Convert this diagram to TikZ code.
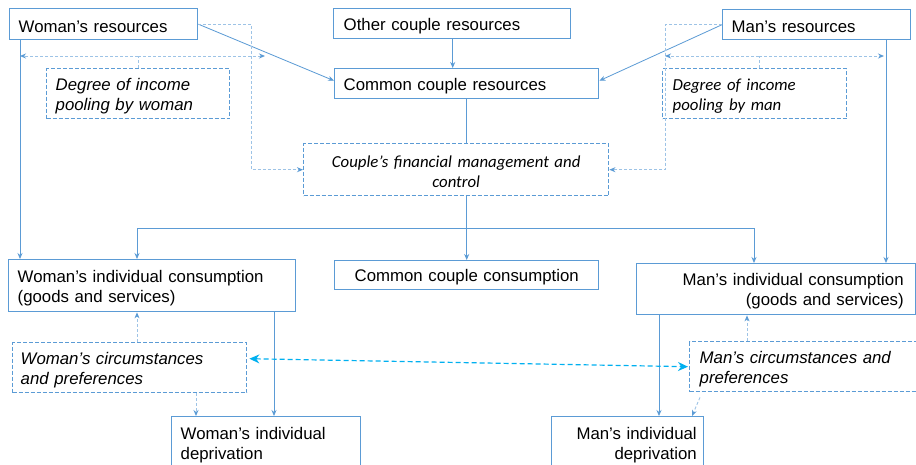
\documentclass[tikz,border=0pt]{standalone}
\usepackage{fontspec}
\setmainfont{Liberation Sans}
\newfontfamily\calibrifont{Carlito}
\usetikzlibrary{arrows.meta}
\definecolor{boxblue}{HTML}{5B9BD5}
\definecolor{lightblue}{HTML}{9DC3E6}
\definecolor{cyanblue}{HTML}{00B0F0}
\begin{document}
\begin{tikzpicture}[x=1pt,y=-1pt,
  txt/.style={font=\fontsize{16.8}{20}\selectfont},
  box/.style={draw=boxblue, line width=1.4pt, inner sep=0pt, anchor=north west, txt, fill=white,
    execute at begin node={\rule{0pt}{16.5pt}}},
  dbox/.style={box, dash pattern=on 4pt off 2pt},
  conn/.style={draw=boxblue, line width=0.8pt, -{Stealth[length=6pt,width=5pt]}},
  plain/.style={draw=boxblue, line width=0.8pt},
  ldash/.style={draw=lightblue, line width=0.9pt, dash pattern=on 3pt off 2pt, -{Stealth[length=6pt,width=5pt,color=boxblue]}},
  ldashplain/.style={draw=lightblue, line width=0.9pt, dash pattern=on 3pt off 2pt},
  cyanarrow/.style={draw=cyanblue, line width=1.2pt, dash pattern=on 5pt off 3pt, {Stealth[length=10pt,width=9pt]}-{Stealth[length=10pt,width=9pt]}}
]
\useasboundingbox (0,0) rectangle (916,464);
\clip (0,0) rectangle (916,464);
\fill[white] (0,0) rectangle (916,464);

% boxes
\node[box, minimum width=188pt, minimum height=31pt, text width=170pt, align=left] (wres) at (9,8) {Woman’s resources};
\node[box, minimum width=237pt, minimum height=30pt, text width=217pt, align=left] (ocres) at (333,8) {Other couple resources};
\node[box, minimum width=264pt, minimum height=30pt, text width=246pt, align=left] (ccres) at (334,68) {Common couple resources};
\node[box, minimum width=188pt, minimum height=30pt, text width=170pt, align=left] (mres) at (722,9) {Man’s resources};
\node[dbox, minimum width=183pt, minimum height=50pt, text width=165pt, align=left, font=\fontsize{16.8}{20}\selectfont\itshape] (dpw) at (46,68) {Degree of income\\pooling by woman};
\node[dbox, minimum width=184pt, minimum height=50pt, text width=164pt, align=left, font=\fontsize{16.8}{20}\calibrifont\itshape] (dpm) at (662,68) {Degree of income\\pooling by man};
\node[dbox, minimum width=305pt, minimum height=52pt, text width=285pt, align=center, font=\fontsize{16.8}{20}\calibrifont\itshape] (cfm) at (303,143) {Couple’s financial management and\\control};
\node[box, minimum width=287pt, minimum height=52pt, text width=269pt, align=left] (wcons) at (8,259) {Woman’s individual consumption\\(goods and services)};
\node[box, minimum width=264pt, minimum height=29pt, text width=246pt, align=center] (ccons) at (334,260) {Common couple consumption};
\node[box, minimum width=279pt, minimum height=51pt, text width=255pt, align=right] (mcons) at (636,263) {Man’s individual consumption\\(goods and services)};
\node[dbox, minimum width=234pt, minimum height=50pt, text width=218pt, align=left, font=\fontsize{16.8}{20}\selectfont\itshape] (wcirc) at (12,342) {Woman’s circumstances\\and preferences};
\node[dbox, minimum width=260pt, minimum height=50pt, text width=240pt, align=left, font=\fontsize{16.8}{20}\selectfont\itshape] (mcirc) at (689,341) {Man’s circumstances and\\preferences};
\node[box, minimum width=189pt, minimum height=52pt, text width=171pt, align=left] (wdep) at (171,416) {Woman’s individual\\deprivation};
\node[box, minimum width=152pt, minimum height=52pt, text width=138pt, align=right] (mdep) at (551,416) {Man’s individual\\deprivation};

% helper coordinates
\coordinate (wl) at (20,0);
\coordinate (mr) at (886,0);
\coordinate (wx) at (137,0);
\coordinate (mx) at (754,0);
\coordinate (wd) at (274,0);
\coordinate (md) at (659,0);
\coordinate (wq) at (196,0);
\coordinate (mq) at (747,0);
\coordinate (split) at (466,228);
\coordinate (dwL) at (20,56);
\coordinate (dwR) at (265,56);
\coordinate (dmL) at (665,56);
\coordinate (dmR) at (884,56);
\coordinate (dmS) at (759,0);

% resources to common
\draw[conn] (wres.east) -- ([yshift=3pt]ccres.west);
\draw[conn] (mres.west) -- ([yshift=3pt]ccres.east);
\draw[conn] ([xshift=0.5pt]ocres.south) -- ([xshift=0.5pt]ocres.south |- ccres.north);

% resources to financial management (dashed)
\draw[ldash] (wres.east) -- ++(53,0) |- (cfm.west);
\draw[ldash] (mres.west) -- ++(-57,0) |- (cfm.east);

% degree of pooling
\draw[ldashplain] (dpw.north) -- (dpw.north |- dwL);
\draw[ldash] (dpw.north |- dwL) -- (dwL);
\draw[ldash] (dpw.north |- dwL) -- (dwR);
\draw[ldashplain] (dpm.north -| dmS) -- (dmS |- dmL);
\draw[ldash] (dmS |- dmL) -- (dmL);
\draw[ldash] (dmS |- dmL) -- (dmR);

% outer verticals
\draw[conn] (wres.south -| wl) -- (wcons.north -| wl);
\draw[conn] (mres.south -| mr) -- (mcons.north -| mr);

% central spine
\draw[plain] (ccres.south) -- (ccres.south |- cfm.north);
\draw[conn] (ccres.south |- cfm.south) -- (ccons.north);
\draw[conn] (split) -| (wcons.north -| wx);
\draw[conn] (split) -| (mcons.north -| mx);

% circumstances to consumption
\draw[ldash] (wcirc.north -| wx) -- (wcons.south -| wx);
\draw[ldash] (mcirc.north -| mq) -- (mcons.south -| mq);

% consumption to deprivation
\draw[conn] (wcons.south -| wd) -- (wdep.north -| wd);
\draw[conn] (mcons.south -| md) -- (mdep.north -| md);

% circumstances to deprivation
\draw[ldash] (wcirc.south -| wq) -- (wdep.north -| wq);
\draw[ldash] ([xshift=11pt,yshift=-5pt]mcirc.south west) -- ([xshift=141pt]mdep.north west);

% interaction
\draw[cyanarrow] ([yshift=9pt,xshift=2pt]wcirc.east) -- ([xshift=-1pt]mcirc.west);
\end{tikzpicture}
\end{document}
